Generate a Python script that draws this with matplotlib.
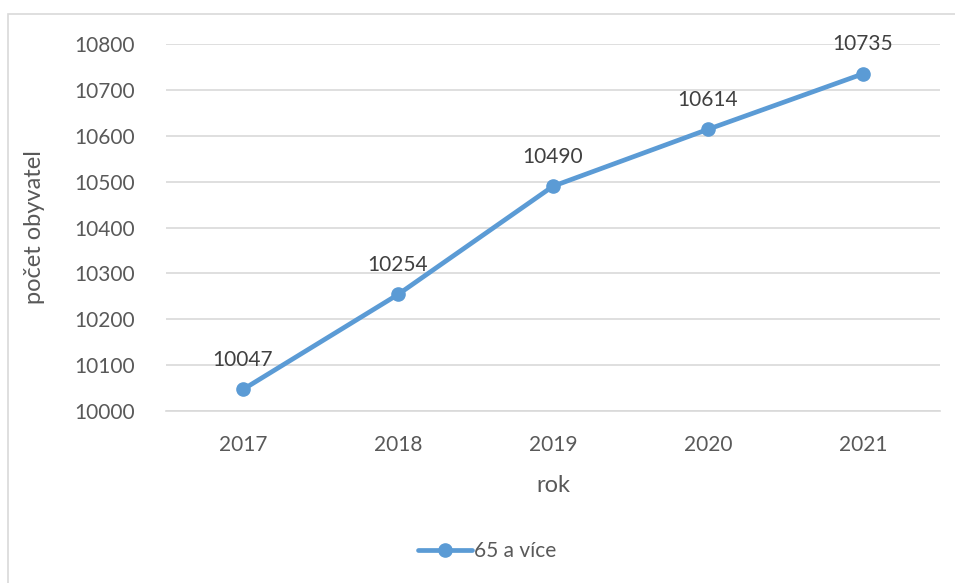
import matplotlib.pyplot as plt
from matplotlib.patches import Rectangle

years = ['2017', '2018', '2019', '2020', '2021']
values = [10047, 10254, 10490, 10614, 10735]
y_ticks = [10000, 10100, 10200, 10300, 10400, 10500, 10600, 10700, 10800]
series_name = '65 a více'

plt.rcParams['font.family'] = ['Lato', 'DejaVu Sans']

fig = plt.figure(figsize=(9.55, 5.83), dpi=100)
ax = fig.add_axes([0.1733, 0.295, 0.8115, 0.6295])

# outer chart frame like Excel
fig.patches.append(Rectangle((8 / 955, -0.1), 1.1, 1 - 14 / 583 + 0.1,
                             transform=fig.transFigure, fill=False,
                             edgecolor='#d9d9d9', linewidth=1.2))

x = range(len(years))
ax.plot(x, values, color='#5b9bd5', linewidth=3.4, marker='o', markersize=9.5,
        label=series_name, solid_capstyle='round')

for xi, v in zip(x, values):
    ax.annotate(str(v), (xi, v), xytext=(0, 14), textcoords='offset points',
                ha='center', va='bottom', fontsize=15, color='#404040')

ax.set_xlim(-0.5, len(years) - 0.5)
ax.set_ylim(10000, 10800)
ax.set_yticks(y_ticks)
ax.set_xticks(list(x))
ax.set_xticklabels(years)
ax.tick_params(axis='both', length=0, labelsize=15, labelcolor='#595959')
ax.tick_params(axis='y', pad=22)
ax.tick_params(axis='x', pad=17)

ax.grid(axis='y', color='#d9d9d9', linewidth=1.2)
ax.set_axisbelow(True)
for s in ['top', 'right', 'left']:
    ax.spines[s].set_visible(False)
ax.spines['bottom'].set_color('#d9d9d9')
ax.spines['bottom'].set_linewidth(1.2)

ax.set_xlabel('rok', fontsize=17, color='#595959')
ax.xaxis.set_label_coords(0.5, -0.175)
ax.set_ylabel('počet obyvatel', fontsize=17, color='#595959')
ax.yaxis.set_label_coords(-0.155, 0.5)

fig.legend(loc='center', bbox_to_anchor=(0.51, 1 - 551 / 583), frameon=False,
           fontsize=15, labelcolor='#595959', handlelength=2.6, handletextpad=0.1)

fig.savefig('out.png', dpi=100)
